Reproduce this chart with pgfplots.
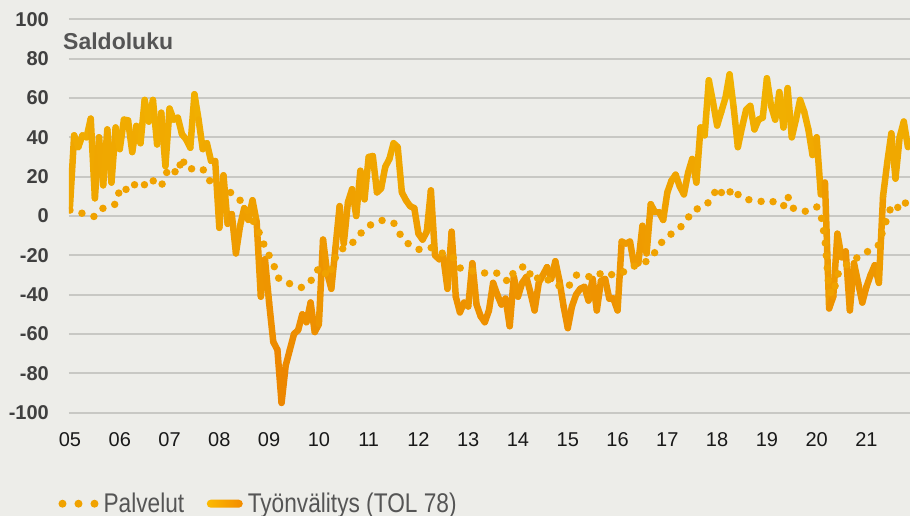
\documentclass[border=0pt]{standalone}
\usepackage{pgfplots}
\pgfplotsset{compat=1.18}
\usepackage{fontspec}
\setmainfont{Liberation Sans}
\newfontfamily\legfont[FakeStretch=0.84]{Liberation Sans}

\definecolor{bgc}{RGB}{237,237,233}
\definecolor{gridc}{RGB}{200,200,196}
\definecolor{palc}{RGB}{240,162,0}
\definecolor{ytc}{RGB}{64,64,64}
\definecolor{xtc}{RGB}{25,25,25}
\definecolor{legc}{RGB}{85,85,85}
\definecolor{lineA}{RGB}{252,186,0}
\definecolor{lineB}{RGB}{243,140,0}

% monthly, 0 = Jan 2005
\pgfplotstableread{
m v
0 5
1 41
2 35
3 41
4 40
5 49.5
6 9
7 40
8 15.6
9 44
10 17
11 45
12 34
13 49
14 48.6
15 32.5
16 45.8
17 37
18 59
19 48
20 59
21 36.4
22 52.5
23 25.4
24 54.6
25 49
26 50
27 41.5
28 39
29 34.7
30 61.9
31 49
32 34
33 37
34 28
35 28
36 -6
37 20.7
38 -4
39 1
40 -19
41 -5
42 4
43 -2
44 8
45 -3
46 -41
47 -22
48 -44
49 -64
50 -68
51 -95
52 -76
53 -68
54 -60
55 -58
56 -50
57 -54
58 -44
59 -59
60 -55
61 -12
62 -29
63 -37
64 -16
65 5
66 -14
67 7
68 13.6
69 0
70 23
71 8.5
72 30
73 30.5
74 12
75 14
76 25
77 29
78 37
79 35
80 12
81 8
82 5
83 4
84 -9
85 -12
86 -8
87 13
88 -20
89 -22
90 -21
91 -37
92 -8
93 -41
94 -49
95 -44
96 -46
97 -24
98 -45
99 -51
100 -54
101 -48
102 -34
103 -40
104 -45
105 -42
106 -56
107 -31
108 -41
109 -34
110 -31
111 -39
112 -48
113 -34
114 -30
115 -26
116 -32
117 -23
118 -33
119 -46
120 -57
121 -46
122 -40
123 -37
124 -36
125 -43
126 -32
127 -48
128 -33
129 -32
130 -42
131 -42
132 -48
133 -13
134 -14
135 -13
136 -25
137 -24
138 -5
139 -19
140 6
141 2
142 2
143 -2
144 12
145 18
146 21
147 15
148 11
149 22
150 29
151 17
152 45
153 41
154 69
155 58
156 46
157 53
158 60
159 72
160 55
161 35
162 45
163 54
164 56
165 44
166 49
167 50
168 70
169 56
170 49
171 63
172 45
173 65
174 40
175 49
176 59
177 53
178 44
179 31
180 40
181 11
182 17
183 -47
184 -41
185 -9
186 -21
187 -18
188 -48
189 -24
190 -34
191 -44
192 -36
193 -30
194 -25
195 -34
196 10
197 27
198 42
199 19
200 40
201 48
202 35
}\tyonvalitys

\pgfplotstableread{
m v
0 3
1 2
2 1.5
3 1.4
4 0.5
5 0
6 -0.3
7 2
8 4
9 5
10 5.5
11 6
12 13.5
13 12
14 15
15 17
16 15
17 14
18 16
19 19
20 18
21 16
22 15
23 21
24 24.6
25 23
26 21.5
27 29.7
28 24
29 24
30 24
31 23.7
32 24
33 20
34 17
35 16
36 16
37 15
38 13
39 11.5
40 10.5
41 8
42 5
43 2
44 -2
45 -6
46 -10
47 -16
48 -20
49 -24
50 -31
51 -33
52 -34
53 -34.4
54 -35
55 -36
56 -36.4
57 -35
58 -33
59 -31
60 -26
61 -27
62 -31
63 -27
64 -21
65 -17
66 -16.5
67 -16
68 -14
69 -11
70 -9
71 -7
72 -5
73 -4
74 -3
75 -2.2
76 -2.5
77 -3
78 -3.4
79 -7
80 -11
81 -13
82 -15
83 -16
84 -17
85 -17
86 -16.5
87 -16
88 -17.5
89 -18.6
90 -19
91 -19.5
92 -20
93 -23
94 -26.4
95 -27
96 -27.5
97 -28
98 -28
99 -28.5
100 -29
101 -29.7
102 -29.5
103 -29
104 -31
105 -32.5
106 -33.6
107 -28
108 -27
109 -26
110 -25.4
111 -30
112 -33
113 -31
114 -30.5
115 -32
116 -34
117 -35
118 -35.5
119 -36
120 -36.6
121 -33
122 -30
123 -30.5
124 -30.8
125 -30.8
126 -31
127 -31
128 -29
129 -28.5
130 -29.5
131 -30
132 -29
133 -28.5
134 -28.3
135 -27
136 -25.5
137 -24.5
138 -24
139 -23
140 -21
141 -18.5
142 -15
143 -12.5
144 -11
145 -9
146 -7.6
147 -6
148 -4
149 -1
150 2.7
151 3.5
152 4
153 5.5
154 7
155 10
156 14.6
157 12
158 9.8
159 12
160 14
161 11
162 9
163 8.8
164 8
165 7.5
166 7.3
167 7.5
168 8
169 8
170 6.5
171 5
172 5
173 10.3
174 4.2
175 3.5
176 2.8
177 2.2
178 3
179 4
180 4.7
181 1
182 -12
183 -38
184 -40
185 -30
186 -27
187 -25
188 -24
189 -22
190 -21
191 -20
192 -18.5
193 -17
194 -16
195 -14.7
196 -7
197 -1
198 5
199 6
200 3
201 5
202 9
}\palvelut

\begin{document}
\begin{tikzpicture}
\fill[bgc] (0pt,0pt) rectangle (910pt,516pt);
\begin{axis}[
    at={(69pt,103.3pt)}, anchor=south west,
    width=841pt, height=393.4pt, scale only axis,
    xmin=-0.24, xmax=202.5,
    ymin=-100, ymax=100,
    axis line style={draw=none},
    tick style={draw=none},
    ytick={-100,-80,-60,-40,-20,0,20,40,60,80,100},
    yticklabels={-100,-80,-60,-40,-20,0,20,40,60,80,100},
    xtick={0,12,...,192},
    xticklabels={05,06,07,08,09,10,11,12,13,14,15,16,17,18,19,20,21},
    ymajorgrids,
    grid style={line width=1.8pt, gridc},
    yticklabel style={font=\bfseries\fontsize{20}{24}\selectfont, text=ytc,
        anchor=east, inner sep=0pt, xshift=-20pt},
    xticklabel style={font=\fontsize{20}{24}\selectfont, text=xtc,
        anchor=north, inner sep=0pt, yshift=-20pt},
    colormap={linegrad}{rgb255(0cm)=(236,130,0) rgb255(1cm)=(242,182,0)},
    point meta min=-100, point meta max=80,
    legend columns=2,
    legend cell align=left,
    legend style={at={(axis description cs:0,0)}, anchor=west,
        xshift=-10.5pt, yshift=-91pt,
        draw=none, fill=none, inner sep=0pt, outer sep=0pt,
        font=\legfont\fontsize{27}{30}\selectfont, text=legc,
        nodes={inner sep=0pt},
        /tikz/every odd column/.append style={column sep=5pt},
        /tikz/every even column/.append style={column sep=22.5pt}},
]
\addlegendimage{legend image code/.code={
    \draw[palc, line width=8pt, line cap=round, dash pattern=on 0pt off 16pt]
        (0pt,0pt) -- (32.1pt,0pt);}}
\addlegendentry{Palvelut}
\addlegendimage{legend image code/.code={
    \path[draw=none, left color=lineA, right color=lineB, rounded corners=4pt]
        (-4pt,-4pt) rectangle (32pt,4pt);}}
\addlegendentry{Työnvälitys (TOL 78)}

% thick line, coloured by height
\addplot[mesh, point meta=y, line width=6.5pt, line cap=round, forget plot]
    table[x=m, y=v] {\tyonvalitys};
% dotted series on top
\addplot[palc, line width=7.5pt, line cap=round, line join=round,
    dash pattern=on 0pt off 12.5pt, forget plot]
    table[x=m, y=v] {\palvelut};
\end{axis}
\node[anchor=base west, inner sep=0pt, font=\bfseries\fontsize{23}{26}\selectfont,
    text={rgb,255:red,85;green,85;blue,85}] at (63pt,466pt) {Saldoluku};
\pgfresetboundingbox
\useasboundingbox (0pt,0pt) rectangle (910pt,516pt);
\end{tikzpicture}
\end{document}
